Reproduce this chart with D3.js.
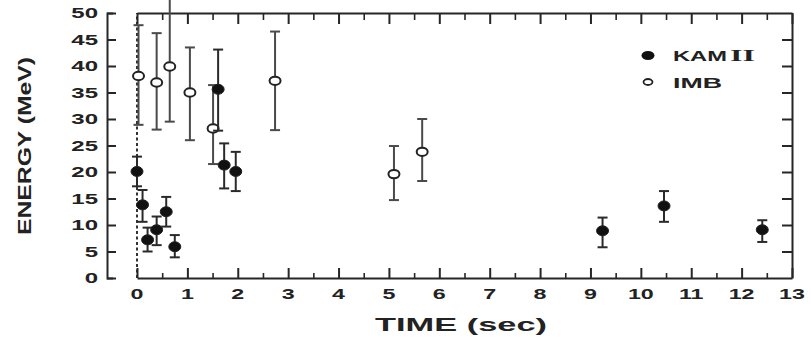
<!DOCTYPE html>
<html>
<head>
<meta charset="utf-8">
<script src="https://cdn.jsdelivr.net/npm/d3@7"></script>
<style>
html,body{margin:0;padding:0;background:#fff;}
svg text{font-family:"Liberation Sans",Arial,sans-serif;font-weight:bold;fill:#222;}
</style>
</head>
<body>
<svg id="chart" width="811" height="340"></svg>
<script>
// ---- data ----
const xTicks = [0,1,2,3,4,5,6,7,8,9,10,11,12,13];
const yTicks = [0,5,10,15,20,25,30,35,40,45,50];

const kamTime   = [0.0, 0.11, 0.21, 0.39, 0.58, 0.75, 1.61, 1.73, 1.96, 9.24, 10.46, 12.41];
const kamEnergy = [20.1, 13.8, 7.2, 9.1, 12.5, 5.9, 35.6, 21.3, 20.1, 8.9, 13.6, 9.1];
const kamHigh   = [22.9, 16.6, 9.5, 11.6, 15.3, 8.1, 43.1, 25.4, 23.8, 11.4, 16.4, 10.9];
const kamLow    = [17.3, 10.6, 5.0, 6.2, 9.7, 3.9, 27.8, 16.9, 16.4, 5.8, 10.6, 6.8];

const imbTime   = [0.03, 0.39, 0.65, 1.05, 1.51, 2.74, 5.10, 5.66];
const imbEnergy = [38.1, 36.9, 39.9, 35.0, 28.2, 37.2, 19.6, 23.8];
const imbHigh   = [47.7, 46.2, 52.5, 43.5, 36.4, 46.5, 24.9, 30.0];
const imbLow    = [28.9, 28.0, 29.5, 26.0, 21.5, 27.9, 14.7, 18.3];

const seriesNames = ["KAM", "IMB"];
const xTitle = "TIME (sec)";
const yTitle = "ENERGY (MeV)";

// ---- layout ----
const svg = d3.select("#chart");
const x = d3.scaleLinear().domain([0, 13]).range([137, 792]);
const y = d3.scaleLinear().domain([0, 50]).range([278, 13]);
const yAxisX = 107;
const ink = "#262626";

// zero-time dashed line
svg.append("line")
  .attr("x1", x(0)).attr("x2", x(0)).attr("y1", y(0)).attr("y2", y(50))
  .attr("stroke", "#333").attr("stroke-width", 2).attr("stroke-dasharray", "3,2.5");

// left axis (offset bracket)
const gy = svg.append("g").attr("transform", `translate(${yAxisX},0)`)
  .call(d3.axisRight(y).tickValues(yTicks).tickSize(9).tickSizeOuter(6).tickFormat(""));
gy.selectAll("path,line").attr("stroke", ink).attr("stroke-width", 2);

// bottom axis
const minorX = d3.range(0.5, 13, 1);
const gx = svg.append("g").attr("transform", `translate(0,${y(0)})`)
  .call(d3.axisTop(x).tickValues(xTicks).tickSize(10).tickSizeOuter(0).tickFormat(""));
gx.selectAll("path,line").attr("stroke", ink).attr("stroke-width", 2);
const gxm = svg.append("g").attr("transform", `translate(0,${y(0)})`)
  .call(d3.axisTop(x).tickValues(minorX).tickSize(5).tickSizeOuter(0).tickFormat(""));
gxm.select("path").remove();
gxm.selectAll("line").attr("stroke", ink).attr("stroke-width", 1.6);

// top axis
const gt = svg.append("g").attr("transform", `translate(0,${y(50)})`)
  .call(d3.axisBottom(x).tickValues(xTicks).tickSize(11).tickSizeOuter(0).tickFormat(""));
gt.selectAll("path,line").attr("stroke", ink).attr("stroke-width", 2);
const gtm = svg.append("g").attr("transform", `translate(0,${y(50)})`)
  .call(d3.axisBottom(x).tickValues(minorX).tickSize(7).tickSizeOuter(0).tickFormat(""));
gtm.select("path").remove();
gtm.selectAll("line").attr("stroke", ink).attr("stroke-width", 1.6);

// right axis
const gr = svg.append("g").attr("transform", `translate(${x(13)},0)`)
  .call(d3.axisLeft(y).tickValues(yTicks.slice(1, -1)).tickSize(10).tickSizeOuter(0).tickFormat(""));
gr.selectAll("path,line").attr("stroke", ink).attr("stroke-width", 2);

// tick labels (stretched like the original typeface)
svg.append("g").selectAll("text").data(yTicks).join("text")
  .attr("transform", d => `translate(98,${y(d)}) scale(1.6,1)`)
  .attr("dy", "0.36em").attr("text-anchor", "end")
  .style("font-size", "15px").text(d => d);

svg.append("g").selectAll("text").data(xTicks).join("text")
  .attr("transform", d => `translate(${x(d)},299) scale(1.55,1)`)
  .attr("text-anchor", "middle")
  .style("font-size", "15px").text(d => d);

// axis titles
svg.append("text")
  .attr("transform", "translate(31,146) rotate(-90)")
  .attr("text-anchor", "middle")
  .attr("textLength", 178).attr("lengthAdjust", "spacingAndGlyphs")
  .style("font-size", "18px").text(yTitle);

svg.append("text")
  .attr("x", 461).attr("y", 331)
  .attr("text-anchor", "middle")
  .attr("textLength", 172).attr("lengthAdjust", "spacingAndGlyphs")
  .style("font-size", "18px").text(xTitle);

// error bars + markers
function drawSeries(times, energies, lows, highs, filled, barColor) {
  const data = times.map((t, i) => ({t, e: energies[i], lo: lows[i], hi: highs[i]}));
  const g = svg.append("g");
  const cap = 5;
  g.selectAll("line.bar").data(data).join("line")
    .attr("x1", d => x(d.t)).attr("x2", d => x(d.t))
    .attr("y1", d => y(d.lo)).attr("y2", d => y(d.hi))
    .attr("stroke", barColor).attr("stroke-width", 2);
  g.selectAll("line.capH").data(data.filter(d => d.hi <= 50)).join("line")
    .attr("x1", d => x(d.t) - cap).attr("x2", d => x(d.t) + cap)
    .attr("y1", d => y(d.hi)).attr("y2", d => y(d.hi))
    .attr("stroke", barColor).attr("stroke-width", 2);
  g.selectAll("line.capL").data(data).join("line")
    .attr("x1", d => x(d.t) - cap).attr("x2", d => x(d.t) + cap)
    .attr("y1", d => y(d.lo)).attr("y2", d => y(d.lo))
    .attr("stroke", barColor).attr("stroke-width", 2);
  g.selectAll("ellipse").data(data).join("ellipse")
    .attr("cx", d => x(d.t)).attr("cy", d => y(d.e))
    .attr("rx", filled ? 6 : 5.5).attr("ry", filled ? 5 : 4.2)
    .attr("fill", filled ? "#111" : "#fff")
    .attr("stroke", "#222").attr("stroke-width", filled ? 1 : 2);
}
drawSeries(imbTime, imbEnergy, imbLow, imbHigh, false, "#4a4a4a");
drawSeries(kamTime, kamEnergy, kamLow, kamHigh, true, "#2a2a2a");

// legend
const lg = svg.append("g");
lg.append("ellipse").attr("cx", 648).attr("cy", 55.5).attr("rx", 6.5).attr("ry", 4.5).attr("fill", "#111");
lg.append("ellipse").attr("cx", 648).attr("cy", 82).attr("rx", 4.5).attr("ry", 3).attr("fill", "#fff")
  .attr("stroke", "#222").attr("stroke-width", 1.8);
lg.append("text").attr("x", 673).attr("y", 61).attr("textLength", 54).attr("lengthAdjust", "spacingAndGlyphs")
  .style("font-size", "15px").text(seriesNames[0]);
lg.append("text").attr("x", 730).attr("y", 61).attr("textLength", 25).attr("lengthAdjust", "spacingAndGlyphs")
  .style("font-size", "16px").style("font-family", "'Liberation Serif',serif").text("II");
lg.append("text").attr("x", 673).attr("y", 87.5).attr("textLength", 49).attr("lengthAdjust", "spacingAndGlyphs")
  .style("font-size", "15px").text(seriesNames[1]);
</script>
</body>
</html>
